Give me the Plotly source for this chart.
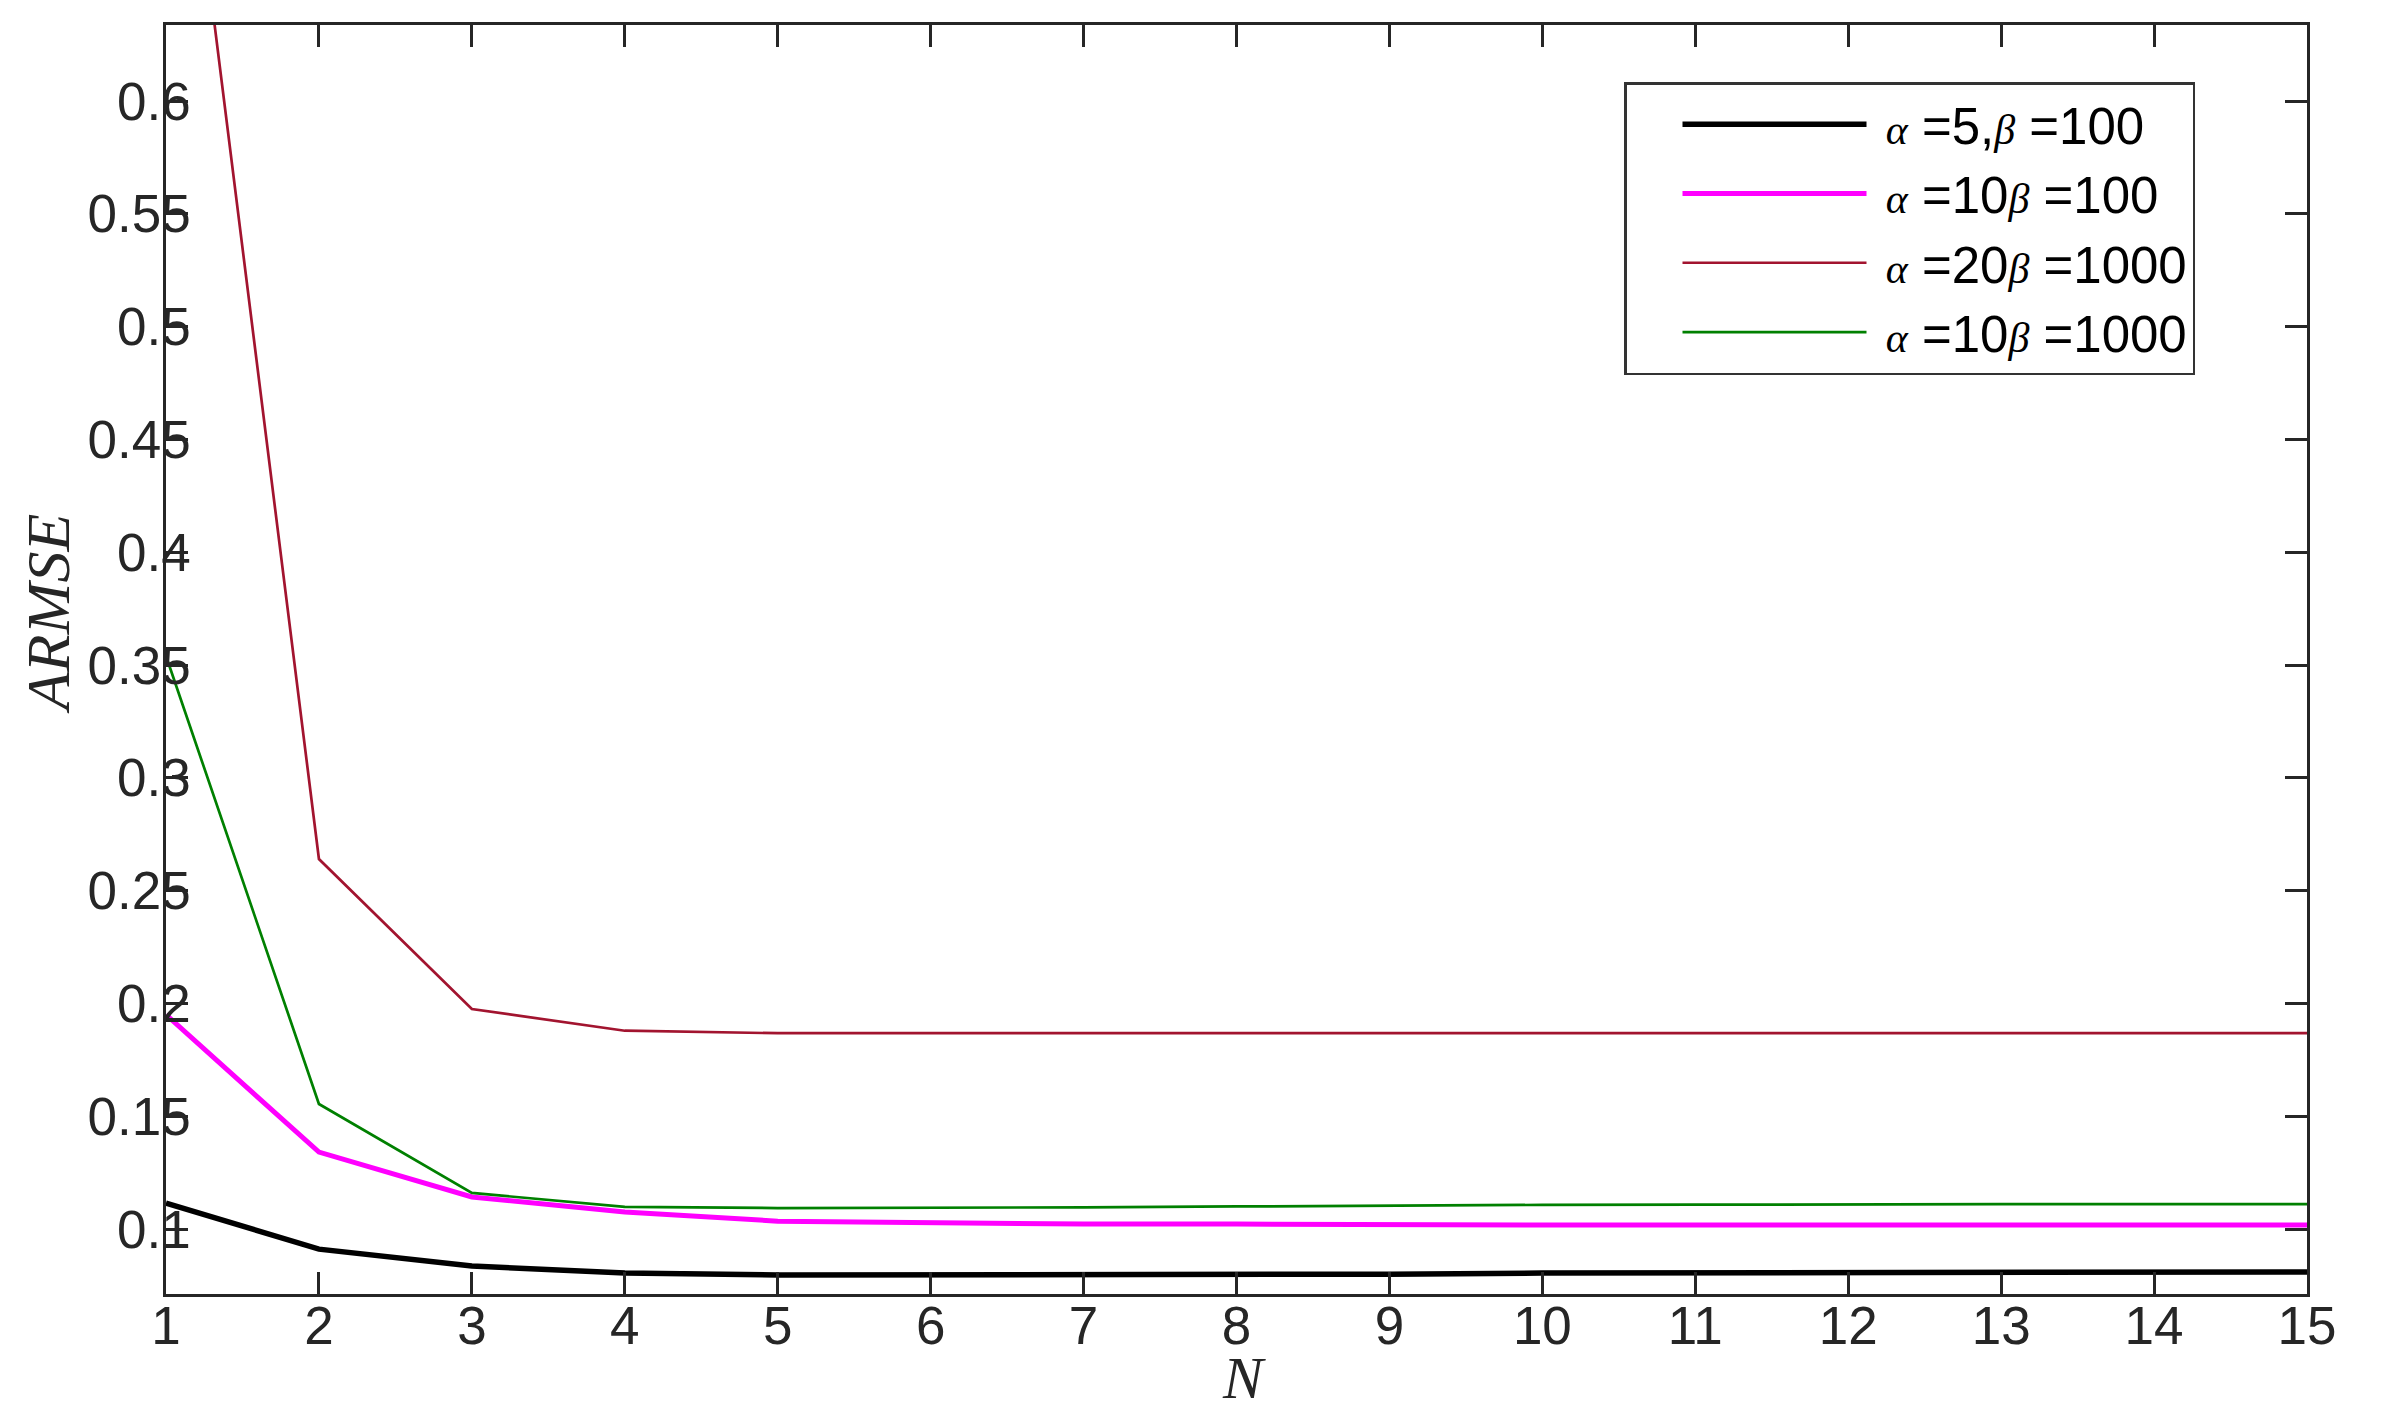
import plotly.graph_objects as go

N = list(range(1, 16))
black = [0.1115, 0.0911, 0.0836, 0.0805, 0.0796, 0.0796, 0.0796, 0.0800, 0.0800, 0.0805, 0.0805, 0.0810, 0.0810, 0.0810, 0.0810]
magenta = [0.195, 0.1341, 0.1142, 0.1075, 0.1035, 0.1027, 0.1022, 0.1022, 0.1018, 0.1018, 0.1018, 0.1018, 0.1018, 0.1018, 0.1018]
darkred = [0.806, 0.264, 0.1975, 0.1879, 0.1868, 0.1868, 0.1868, 0.1868, 0.1868, 0.1868, 0.1868, 0.1868, 0.1868, 0.1868, 0.1868]
green = [0.354, 0.1554, 0.116, 0.1098, 0.1093, 0.1093, 0.1096, 0.1100, 0.1105, 0.1107, 0.1108, 0.1110, 0.1110, 0.1110, 0.1110]

ytickvals = [0.1, 0.15, 0.2, 0.25, 0.3, 0.35, 0.4, 0.45, 0.5, 0.55, 0.6]
yticktext = ["0.1", "0.15", "0.2", "0.25", "0.3", "0.35", "0.4", "0.45", "0.5", "0.55", "0.6"]

SERIF = "Liberation Serif"
SANS = "Liberation Sans"

def lab(a, b):
    g = f"<span style='font-family:{SERIF};font-size:42px'><i>%s</i></span>"
    return "\u00a0" + (g % "α") + " =" + a + (g % "β") + " =" + b

names = [lab("5,", "100"), lab("10", "100"), lab("20", "1000"), lab("10", "1000")]

fig = go.Figure()
fig.add_trace(go.Scatter(x=N, y=black, mode="lines", name=names[0],
                         line=dict(color="#000000", width=5.5)))
fig.add_trace(go.Scatter(x=N, y=magenta, mode="lines", name=names[1],
                         line=dict(color="#FF00FF", width=5)))
fig.add_trace(go.Scatter(x=N, y=darkred, mode="lines", name=names[2],
                         line=dict(color="#A2142F", width=2.7)))
fig.add_trace(go.Scatter(x=N, y=green, mode="lines", name=names[3],
                         line=dict(color="#008000", width=2.7)))

axcol = "#262626"
OFF = 8  # page body margin
W, H = 2385 - OFF, 1425 - OFF
L, R, T, B = 166 - OFF, 78, 25 - OFF, 131
ph = H - T - B
pw = W - L - R
fig.update_layout(
    width=W, height=H,
    margin=dict(l=L, r=R, t=T, b=B, pad=0, autoexpand=False),
    paper_bgcolor="white", plot_bgcolor="white",
    font=dict(family=SANS, size=53, color=axcol),
    showlegend=True,
    legend=dict(x=(1624 - 166) / pw, y=(1294 - 82) / ph, xanchor="left", yanchor="top",
                bordercolor="#333333", borderwidth=2.5, bgcolor="white",
                font=dict(family=SANS, size=51, color="#000000"),
                itemwidth=184, indentation=51, tracegroupgap=0),
    annotations=[
        dict(text="<i>ARMSE</i>", textangle=-90, xref="paper", yref="paper",
             x=(48 - 166) / pw, y=(1294 - 614) / ph, xanchor="center", yanchor="middle",
             showarrow=False, font=dict(family=SERIF, size=62, color=axcol)),
        dict(text="<i>N</i>", xref="paper", yref="paper",
             x=(1244 - 166) / pw, y=-(1378 - 1294) / ph, xanchor="center", yanchor="middle",
             showarrow=False, font=dict(family=SERIF, size=60, color=axcol)),
    ],
)
fig.update_xaxes(range=[1, 15], tickvals=N, ticks="inside", ticklen=22, tickwidth=2.5,
                 tickcolor=axcol, showline=True, linecolor=axcol, linewidth=2.5,
                 mirror="ticks", showgrid=False, zeroline=False, automargin=False,
                 ticklabelstandoff=-16,
                 tickfont=dict(family=SANS, size=53, color=axcol))
fig.update_yaxes(range=[0.0712, 0.6337], tickvals=ytickvals, ticktext=yticktext,
                 ticks="inside", ticklen=22, tickwidth=2.5, tickcolor=axcol,
                 showline=True, linecolor=axcol, linewidth=2.5, mirror="ticks",
                 showgrid=False, zeroline=False, ticklabelstandoff=-38, automargin=False,
                 tickfont=dict(family=SANS, size=53, color=axcol))

fig.write_html("out.html")
